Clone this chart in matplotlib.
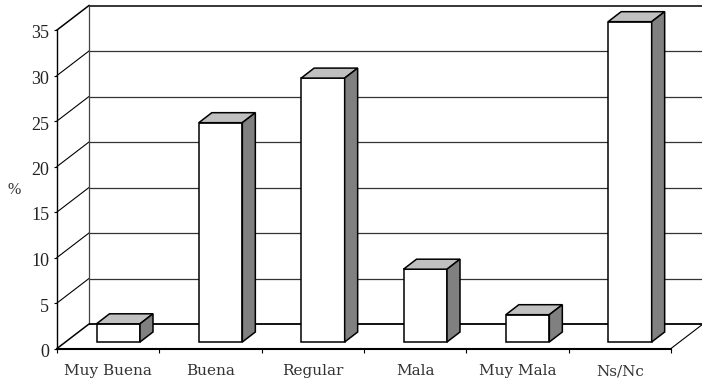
import matplotlib
matplotlib.use("Agg")
import matplotlib.pyplot as plt
from matplotlib.patches import Polygon
from matplotlib.transforms import ScaledTranslation

categories = ["Muy Buena", "Buena", "Regular", "Mala", "Muy Mala", "Ns/Nc"]
values = [2, 24.1, 29, 8, 3, 35.2]
y_ticks = [0, 5, 10, 15, 20, 25, 30, 35]

W, H = 702, 382
fig = plt.figure(figsize=(W / 100, H / 100), dpi=100)
ax = fig.add_axes([57 / W, 1 - 348.5 / H, 614 / W, 318.5 / H])
ax.set_xlim(0, 6)
ax.set_ylim(0, 35)

# pixel sizes converted to data units
px_x = 6 / 614
px_y = 35 / 318.5
wall_dx, wall_dy = 32 * px_x, 24.5 * px_y
bar_dx, bar_dy = 13 * px_x, 10 * px_y
bar_w = 43.5 * px_x
bar_x0 = 39.5 * px_x
bar_y0 = 6.5 * px_y

# left wall and back wall gridlines
for t in y_ticks:
    lw = 1.1 if t in (0, 35) else 0.8
    ax.plot([0, wall_dx], [t, t + wall_dy], color="black", lw=lw, clip_on=False, zorder=1)
    if t > 0:
        ax.plot([wall_dx, 6 + wall_dx], [t + wall_dy, t + wall_dy], color="#333333" if t < 35 else "black",
                lw=0.9 if t < 35 else 1.1, clip_on=False, zorder=1, solid_capstyle="butt")
ax.plot([wall_dx, wall_dx], [wall_dy, 35 + wall_dy], color="#444444", lw=0.9, clip_on=False, zorder=1)

# floor edges
ax.plot([wall_dx, 6 + wall_dx], [wall_dy, wall_dy], color="black", lw=1.3, clip_on=False, zorder=1,
        solid_capstyle="butt")
ax.plot([6, 6 + wall_dx], [0, wall_dy], color="black", lw=0.8, clip_on=False, zorder=1)

# 3d columns: front, top and side faces, standing slightly back on the floor
for i, v in enumerate(values):
    x0 = i + bar_x0
    x1 = x0 + bar_w
    y0 = bar_y0
    y1 = bar_y0 + v
    faces = [
        ([(x0, y0), (x1, y0), (x1, y1), (x0, y1)], "white"),
        ([(x0, y1), (x1, y1), (x1 + bar_dx, y1 + bar_dy), (x0 + bar_dx, y1 + bar_dy)], "#c0c0c0"),
        ([(x1, y0), (x1 + bar_dx, y0 + bar_dy), (x1 + bar_dx, y1 + bar_dy), (x1, y1)], "#808080"),
    ]
    for pts, color in faces:
        ax.add_patch(Polygon(pts, closed=True, facecolor=color, edgecolor="black", lw=1.1,
                             joinstyle="miter", clip_on=False, zorder=3))

for side in ("top", "right"):
    ax.spines[side].set_visible(False)
ax.spines["left"].set_linewidth(1.0)
ax.spines["bottom"].set_linewidth(1.5)
ax.spines["left"].set_zorder(2)
ax.spines["bottom"].set_zorder(2)

ax.set_yticks(y_ticks)
ax.set_yticklabels([str(t) for t in y_ticks], family="Liberation Serif", fontsize=13, color="#222222")
ax.tick_params(axis="y", length=2.5, width=0.8, pad=3)
# tick numbers sit a little below their ticks
shift = ScaledTranslation(0, -2 / 100, fig.dpi_scale_trans)
for lab in ax.get_yticklabels():
    lab.set_transform(lab.get_transform() + shift)

ax.set_xticks(range(7))
ax.set_xticklabels([])
ax.set_xticks([i + 0.5 for i in range(6)], minor=True)
ax.set_xticklabels(categories, minor=True, family="DejaVu Serif", fontsize=11, color="#333333")
ax.tick_params(axis="x", which="major", length=3, width=0.8)
ax.tick_params(axis="x", which="minor", length=0, pad=11.5)

ax.set_ylabel("%", rotation=0, family="Liberation Serif", fontsize=11.5, color="#333333", va="center")
ax.yaxis.set_label_coords(-43 / 614, 158 / 318.5)

fig.savefig("out.png", dpi=100)
